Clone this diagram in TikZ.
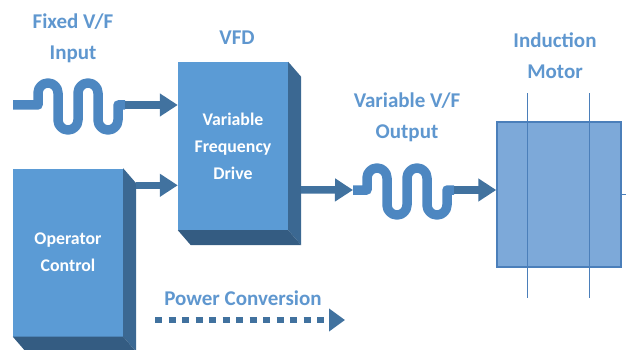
\documentclass[tikz,border=0pt]{standalone}
\usepackage{fontspec}
\setmainfont{Carlito}
\usetikzlibrary{arrows.meta}
\definecolor{facecol}{HTML}{5B9BD5}
\definecolor{sidecol}{HTML}{3B6892}
\definecolor{bottomcol}{HTML}{345C82}
\definecolor{wavecol}{HTML}{4D87C1}
\definecolor{linkcol}{HTML}{41729F}
\definecolor{labelcol}{HTML}{5F97CF}
\definecolor{motorcol}{HTML}{7DA9D9}
\definecolor{motoredge}{HTML}{4B7FBA}

\begin{document}
\begin{tikzpicture}[x=1pt,y=-1pt,
    caption/.style={text=labelcol,font=\fontsize{21}{31}\selectfont\bfseries,align=center},
    block/.style={fill=facecol,text=white,minimum width=110pt,minimum height=168pt,
      font=\fontsize{17.8}{27}\selectfont\bfseries,align=center,inner sep=0pt},
    link/.style={draw=linkcol,line width=7.5pt,-{Triangle[length=18pt,width=22pt]}},
    wave/.style={draw=wavecol,line width=9.5pt,line join=round},
    motorbox/.style={fill=motorcol,draw=motoredge,line width=1.5pt,
      minimum width=124pt,minimum height=145pt,inner sep=0pt}]
    \useasboundingbox (0,0) rectangle (626,350);

    % blocks
    \node[block] (vfd) at (233,146) {Variable\\Frequency\\Drive};
    \node[block] (op) at (68,252.5) {Operator\\Control};
    \node[motorbox] (motor) at (559,194.5) {};

    % sides of the blocks
    \foreach \b in {vfd,op} {
        \fill[sidecol] (\b.north east) -- ++(13,15) -- ([xshift=13pt,yshift=-15pt]\b.south east) -- (\b.south east) -- cycle;
        \fill[bottomcol] (\b.south west) -- ++(13,15) -- ([xshift=13pt,yshift=-15pt]\b.south east) -- (\b.south east) -- cycle;
    }

    % captions
    \node[caption] (fixlbl) at (73,38) {Fixed V/F\\Input};
    \node[caption] (vfdlbl) at (237,38) {VFD};
    \node[caption] (varlbl) at (407,117) {Variable V/F\\Output};
    \node[caption] (motlbl) at (555,56) {Induction\\Motor};
    \node[caption] (pwrlbl) at (243,298) {Power Conversion};

    % waves
    \coordinate (in0) at (13,105);
    \coordinate (in1) at (125,105);
    \coordinate (out0) at (353,190);
    \coordinate (out1) at (454,190);
    \foreach \s/\e in {in0/in1,out0/out1} {
        \draw[wave] (\s) -- ([xshift=-87pt]\e) -- ++(0,-12)
            arc (180:360:10) -- ++(0,27) arc (180:0:10) -- ++(0,-27)
            arc (180:360:10) -- ++(0,27) arc (180:0:10) -- ++(0,-15) -- (\e);
    }

    % links
    \coordinate (c1) at ([xshift=13pt,yshift=-17pt]op.north east);
    \coordinate (c2) at ([xshift=13pt,yshift=-128pt]vfd.north east);
    \draw[link] (in1) -- (in1 -| vfd.west);
    \draw[link] (c1) -- (c1 -| vfd.west);
    \draw[link] (c2) -- (out0);
    \draw[link] (out1) -- (out1 -| motor.west);

    % motor
    \foreach \dx in {31,93}
        \draw[motoredge,line width=1.5pt] ([xshift=\dx pt,yshift=28pt]motor.north west) -- ([xshift=\dx pt,yshift=-30pt]motor.south west);
    \draw[motoredge,line width=1.5pt] (motor.east) -- ++(8,0);

    % power conversion
    \coordinate (pc0) at (155,320);
    \coordinate (pc1) at (345,320);
    \draw[link,line width=6pt,dash pattern=on 7pt off 6.5pt,-{Triangle[length=16pt,width=22pt]}] (pc0) -- (pc1);
\end{tikzpicture}
\end{document}
